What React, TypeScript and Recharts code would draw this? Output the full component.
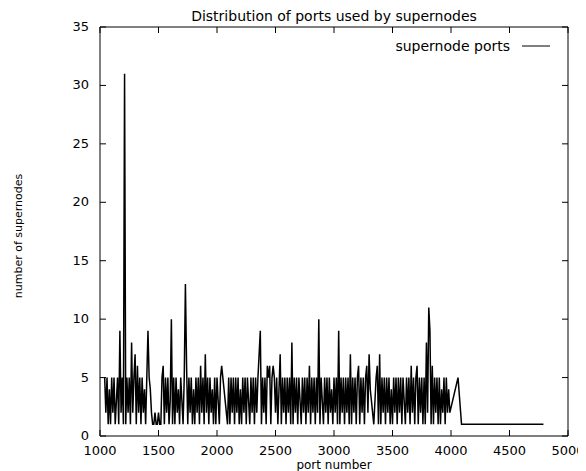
import React from 'react';
import { LineChart, Line, XAxis, YAxis, Legend } from 'recharts';

const ports = [
  1040, 1050, 1060, 1070, 1080, 1090, 1100, 1110, 1120, 1130,
  1140, 1150, 1160, 1170, 1180, 1190, 1200, 1210, 1220, 1230,
  1240, 1250, 1260, 1270, 1280, 1290, 1300, 1310, 1320, 1330,
  1340, 1350, 1360, 1370, 1380, 1390, 1400, 1410, 1420, 1430,
  1440, 1450, 1460, 1470, 1480, 1490, 1500, 1510, 1520, 1530,
  1540, 1550, 1560, 1570, 1580, 1590, 1600, 1610, 1620, 1630,
  1640, 1650, 1660, 1670, 1680, 1690, 1700, 1710, 1720, 1730,
  1740, 1750, 1760, 1770, 1780, 1790, 1800, 1810, 1820, 1830,
  1840, 1850, 1860, 1870, 1880, 1890, 1900, 1910, 1920, 1930,
  1940, 1950, 1960, 1970, 1980, 1990, 2000, 2010, 2020, 2030,
  2040, 2050, 2060, 2070, 2080, 2090, 2100, 2110, 2120, 2130,
  2140, 2150, 2160, 2170, 2180, 2190, 2200, 2210, 2220, 2230,
  2240, 2250, 2260, 2270, 2280, 2290, 2300, 2310, 2320, 2330,
  2340, 2350, 2360, 2370, 2380, 2390, 2400, 2410, 2420, 2430,
  2440, 2450, 2460, 2470, 2480, 2490, 2500, 2510, 2520, 2530,
  2540, 2550, 2560, 2570, 2580, 2590, 2600, 2610, 2620, 2630,
  2640, 2650, 2660, 2670, 2680, 2690, 2700, 2710, 2720, 2730,
  2740, 2750, 2760, 2770, 2780, 2790, 2800, 2810, 2820, 2830,
  2840, 2850, 2860, 2870, 2880, 2890, 2900, 2910, 2920, 2930,
  2940, 2950, 2960, 2970, 2980, 2990, 3000, 3010, 3020, 3030,
  3040, 3050, 3060, 3070, 3080, 3090, 3100, 3110, 3120, 3130,
  3140, 3150, 3160, 3170, 3180, 3190, 3200, 3210, 3220, 3230,
  3240, 3250, 3260, 3270, 3280, 3290, 3300, 3310, 3320, 3330,
  3340, 3350, 3360, 3370, 3380, 3390, 3400, 3410, 3420, 3430,
  3440, 3450, 3460, 3470, 3480, 3490, 3500, 3510, 3520, 3530,
  3540, 3550, 3560, 3570, 3580, 3590, 3600, 3610, 3620, 3630,
  3640, 3650, 3660, 3670, 3680, 3690, 3700, 3710, 3720, 3730,
  3740, 3750, 3760, 3770, 3780, 3790, 3800, 3810, 3820, 3830,
  3840, 3850, 3860, 3870, 3880, 3890, 3900, 3910, 3920, 3930,
  3940, 3950, 3960, 3970, 3980, 3990,
  4060, 4090, 4790,
];

const counts = [
  5, 2, 5, 1, 4, 1, 5, 2, 5, 1,
  3, 5, 1, 9, 2, 5, 1, 31, 1, 5,
  2, 5, 1, 8, 2, 5, 7, 1, 6, 2,
  5, 1, 5, 2, 4, 1, 5, 9, 5, 4,
  2, 1, 1, 2, 1, 1, 2, 1, 1, 5,
  6, 1, 5, 2, 5, 1, 3, 10, 1, 5,
  1, 5, 2, 4, 1, 5, 3, 1, 5, 13,
  6, 1, 5, 2, 5, 1, 4, 1, 5, 2,
  5, 1, 6, 2, 5, 1, 7, 2, 5, 1,
  5, 2, 4, 1, 5, 1, 5, 3, 1, 5,
  6, 5, 4, 3, 2, 1, 5, 1, 5, 2,
  5, 1, 5, 2, 5, 1, 4, 1, 5, 2,
  5, 1, 5, 3, 1, 5, 2, 5, 1, 5,
  2, 5, 7, 9, 1, 5, 2, 5, 1, 6,
  5, 6, 1, 5, 6, 5, 2, 5, 1, 4,
  7, 1, 5, 2, 5, 1, 5, 2, 5, 1,
  8, 1, 5, 2, 5, 1, 5, 3, 1, 5,
  2, 5, 1, 5, 2, 6, 1, 5, 2, 5,
  1, 5, 2, 10, 1, 5, 3, 1, 5, 2,
  5, 1, 5, 2, 4, 1, 5, 2, 5, 1,
  9, 1, 5, 2, 5, 1, 5, 2, 5, 1,
  7, 1, 5, 2, 5, 1, 5, 6, 1, 5,
  2, 5, 1, 5, 6, 2, 7, 4, 3, 2,
  1, 3, 5, 6, 1, 7, 1, 5, 2, 5,
  1, 5, 2, 5, 1, 4, 1, 5, 2, 5,
  1, 5, 2, 5, 1, 5, 3, 1, 5, 2,
  5, 1, 6, 2, 5, 1, 5, 6, 1, 5,
  2, 5, 1, 5, 1, 8, 2, 11, 9, 1,
  6, 1, 5, 2, 5, 1, 5, 1, 4, 2,
  5, 1, 5, 2, 4, 2,
  5, 1, 1,
];

const xTicks = [1000, 1500, 2000, 2500, 3000, 3500, 4000, 4500, 5000];
const yTicks = [0, 5, 10, 15, 20, 25, 30, 35];
const seriesName = 'supernode ports';
const titleText = 'Distribution of ports used by supernodes';
const xLabel = 'port number';
const yLabel = 'number of supernodes';

const data = ports.map((p, i) => ({ port: p, count: counts[i] }));

const FONT = '"DejaVu Sans", sans-serif';
const FS = 14;
const TFS = 13;
const TICK = 6;

const BottomTick = (props: any) => {
  const { x, y, payload } = props;
  return (
    <g>
      <line x1={x} y1={y} x2={x} y2={y - TICK} stroke="#000" strokeWidth={1} />
      <text x={x} y={y + 19} textAnchor="middle" fontFamily={FONT} fontSize={TFS} fill="#000">
        {payload.value}
      </text>
    </g>
  );
};

const TopTick = (props: any) => {
  const { x, y } = props;
  return <line x1={x} y1={y} x2={x} y2={y + TICK} stroke="#000" strokeWidth={1} />;
};

const LeftTick = (props: any) => {
  const { x, y, payload } = props;
  return (
    <g>
      <line x1={x} y1={y} x2={x + TICK} y2={y} stroke="#000" strokeWidth={1} />
      <text x={x - 11} y={y + 4} textAnchor="end" fontFamily={FONT} fontSize={TFS} fill="#000">
        {payload.value}
      </text>
    </g>
  );
};

const RightTick = (props: any) => {
  const { x, y } = props;
  return <line x1={x} y1={y} x2={x - TICK} y2={y} stroke="#000" strokeWidth={1} />;
};

const LegendContent = () => (
  <div
    style={{
      display: 'flex',
      alignItems: 'center',
      justifyContent: 'flex-end',
      fontFamily: FONT,
      fontSize: FS,
      lineHeight: '16px',
      height: 16,
      color: '#000',
    }}
  >
    <span>{seriesName}</span>
    <svg width={28} height={2} style={{ marginLeft: 12, display: 'block' }}>
      <line x1={0} y1={1} x2={28} y2={1} stroke="#000" strokeWidth={1} />
    </svg>
  </div>
);

export default function App() {
  return (
    <div style={{ position: 'relative', width: 578, height: 463 }}>
      <LineChart width={578} height={463} data={data} margin={{ top: 0, right: 0, bottom: 0, left: 0 }}>
        <XAxis
          xAxisId="b"
          dataKey="port"
          type="number"
          domain={[1000, 5000]}
          ticks={xTicks}
          interval={0}
          height={35}
          tickSize={0}
          tickMargin={0}
          tickLine={false}
          axisLine={{ stroke: '#000', strokeWidth: 1 }}
          tick={BottomTick}
          allowDataOverflow
        />
        <XAxis
          xAxisId="t"
          orientation="top"
          dataKey="port"
          type="number"
          domain={[1000, 5000]}
          ticks={xTicks}
          interval={0}
          height={19}
          tickSize={0}
          tickMargin={0}
          tickLine={false}
          axisLine={{ stroke: '#000', strokeWidth: 1 }}
          tick={TopTick}
          allowDataOverflow
        />
        <YAxis
          yAxisId="l"
          type="number"
          domain={[0, 35]}
          ticks={yTicks}
          interval={0}
          width={92}
          tickSize={0}
          tickMargin={0}
          tickLine={false}
          axisLine={{ stroke: '#000', strokeWidth: 1 }}
          tick={LeftTick}
          allowDataOverflow
        />
        <YAxis
          yAxisId="r"
          orientation="right"
          type="number"
          domain={[0, 35]}
          ticks={yTicks}
          interval={0}
          width={18}
          tickSize={0}
          tickMargin={0}
          tickLine={false}
          axisLine={{ stroke: '#000', strokeWidth: 1 }}
          tick={RightTick}
          allowDataOverflow
        />
        <Legend
          layout="horizontal"
          verticalAlign="middle"
          align="center"
          content={LegendContent}
          wrapperStyle={{ position: 'absolute', top: 30, left: 0, width: 542 }}
        />
        <Line
          xAxisId="b"
          yAxisId="l"
          type="linear"
          dataKey="count"
          name={seriesName}
          stroke="#000"
          strokeWidth={1.5}
          dot={false}
          isAnimationActive={false}
        />
      </LineChart>
      <svg
        width={578}
        height={463}
        style={{ position: 'absolute', left: 0, top: 0, pointerEvents: 'none' }}
      >
        <text x={326} y={13} textAnchor="middle" fontFamily={FONT} fontSize={FS} fill="#000">
          {titleText}
        </text>
        <text x={326} y={461.3} textAnchor="middle" fontFamily={FONT} fontSize={12} fill="#000">
          {xLabel}
        </text>
        <text
          x={10}
          y={228}
          textAnchor="middle"
          dominantBaseline="central"
          transform="rotate(-90 10 228)"
          fontFamily={FONT}
          fontSize={11}
          fill="#000"
        >
          {yLabel}
        </text>
      </svg>
    </div>
  );
}
